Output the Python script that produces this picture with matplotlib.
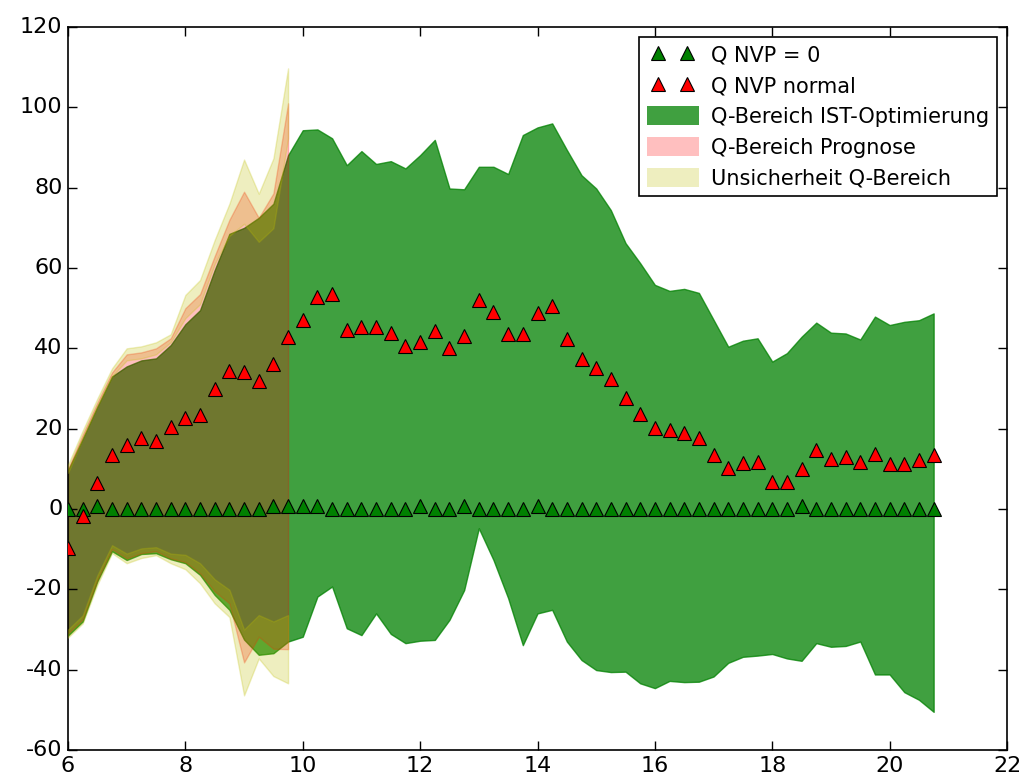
import numpy as np
import matplotlib
matplotlib.use("Agg")
import matplotlib.pyplot as plt
import matplotlib.patches as mpatches
from matplotlib.legend_handler import HandlerLine2D

# ---------------- data ----------------
hours = [6.0, 6.25, 6.5, 6.75, 7.0, 7.25, 7.5, 7.75, 8.0, 8.25, 8.5, 8.75,
         9.0, 9.25, 9.5, 9.75, 10.0, 10.25, 10.5, 10.75, 11.0, 11.25, 11.5, 11.75,
         12.0, 12.25, 12.5, 12.75, 13.0, 13.25, 13.5, 13.75, 14.0, 14.25, 14.5, 14.75,
         15.0, 15.25, 15.5, 15.75, 16.0, 16.25, 16.5, 16.75, 17.0, 17.25, 17.5, 17.75,
         18.0, 18.25, 18.5, 18.75, 19.0, 19.25, 19.5, 19.75, 20.0, 20.25, 20.5, 20.75]

q_nvp_zero = [0, 0, 0.7, 0, 0, 0, 0, 0, 0, 0, 0, 0,
              0, 0, 0.7, 0.7, 0.7, 0.7, 0, 0, 0, 0, 0, 0,
              0.7, 0, 0, 0.7, 0, 0, 0, 0, 0.7, 0, 0, 0,
              0, 0, 0, 0, 0, 0, 0, 0, 0, 0, 0, 0,
              0, 0, 0.7, 0, 0, 0, 0, 0, 0, 0, 0, 0]

q_nvp_normal = [-9.7, -1.7, 6.5, 13.4, 15.9, 17.8, 17.0, 20.3, 22.6, 23.5, 29.9, 34.3,
                34.0, 31.9, 36.1, 42.9, 47.1, 52.8, 53.5, 44.5, 45.3, 45.3, 43.7, 40.5,
                41.5, 44.2, 40.0, 43.0, 52.0, 49.0, 43.5, 43.5, 48.7, 50.5, 42.2, 37.4,
                35.0, 32.4, 27.6, 23.7, 20.1, 19.7, 18.8, 17.8, 13.5, 10.2, 11.4, 11.8,
                6.8, 6.8, 9.9, 14.8, 12.4, 12.9, 11.7, 13.6, 11.3, 11.3, 12.1, 13.5]

ist_hi = [9.6, 17.5, 25.5, 33.0, 35.5, 37.0, 37.5, 40.8, 46.0, 49.5, 59.5, 68.5,
          70.0, 72.5, 76.0, 88.1, 94.3, 94.5, 92.3, 85.6, 89.1, 85.9, 86.6, 84.8,
          88.1, 91.9, 79.8, 79.6, 85.2, 85.2, 83.4, 93.1, 95.0, 96.0, 89.4, 83.1,
          79.8, 74.4, 66.2, 61.2, 55.8, 54.3, 54.8, 53.8, 47.1, 40.4, 41.9, 42.5,
          36.7, 38.8, 42.9, 46.4, 43.9, 43.7, 42.2, 47.9, 45.8, 46.6, 47.0, 48.7]

ist_lo = [-31.5, -28.0, -18.0, -10.5, -12.7, -11.2, -11.0, -12.5, -13.5, -16.4, -21.4, -25.1,
          -32.5, -36.3, -35.9, -33.0, -31.8, -21.8, -19.3, -29.7, -31.4, -26.0, -31.1, -33.4,
          -32.8, -32.6, -27.6, -20.2, -4.8, -12.7, -22.2, -33.9, -26.0, -25.1, -33.0, -37.6,
          -40.1, -40.6, -40.5, -43.4, -44.6, -42.8, -43.1, -43.0, -41.7, -38.3, -36.8, -36.5,
          -36.1, -37.2, -37.8, -33.4, -34.3, -34.1, -33.0, -41.2, -41.2, -45.6, -47.5, -50.5]

prog_hours = hours[:16]
prog_hi = [10.0, 18.5, 26.5, 34.0, 38.5, 39.0, 40.0, 42.5, 50.0, 53.5, 63.0, 72.0,
           79.0, 72.5, 78.6, 101.0]
prog_lo = [-31.0, -27.5, -17.7, -10.0, -12.3, -11.0, -10.5, -12.3, -13.2, -16.0, -20.5, -23.5,
           -38.2, -31.8, -34.8, -34.9]

unc_up_hi = [11.0, 19.5, 27.5, 35.0, 40.0, 40.5, 41.5, 43.5, 53.3, 57.0, 67.0, 76.0,
             87.0, 78.5, 87.3, 109.7]
unc_up_lo = [9.0, 17.5, 25.5, 33.0, 37.0, 37.5, 38.5, 41.5, 47.5, 51.0, 61.0, 68.0,
             71.0, 66.5, 69.9, 92.3]
unc_dn_hi = [-30.0, -26.5, -16.5, -9.0, -11.1, -9.8, -9.5, -11.1, -11.4, -13.5, -17.5, -20.1,
             -30.0, -26.4, -28.0, -26.4]
unc_dn_lo = [-32.0, -28.5, -18.9, -11.0, -13.5, -12.2, -11.5, -13.5, -15.0, -18.5, -23.5, -26.9,
             -46.4, -37.2, -41.6, -43.4]

labels = ["Q NVP = 0", "Q NVP normal", "Q-Bereich IST-Optimierung",
          "Q-Bereich Prognose", "Unsicherheit Q-Bereich"]

# ---------------- plot ----------------
plt.style.use("classic")
plt.rcParams["font.family"] = ["DejaVu Sans"]
plt.rcParams["axes.unicode_minus"] = False

fig = plt.figure(figsize=(10.21, 7.80), dpi=100, facecolor="white")
ax = fig.add_axes([68 / 1021, 1 - 750 / 780, (1007 - 68) / 1021, (750 - 27) / 780])

ax.fill_between(hours, ist_lo, ist_hi, facecolor="green", edgecolor="green",
                alpha=0.75, linewidth=1.0, zorder=1)
ax.fill_between(prog_hours, prog_lo, prog_hi, facecolor="red", edgecolor="red",
                alpha=0.25, linewidth=1.0, zorder=2)
ax.fill_between(prog_hours, unc_up_lo, unc_up_hi, facecolor="y", edgecolor="y",
                alpha=0.25, linewidth=1.0, zorder=3)
ax.fill_between(prog_hours, unc_dn_lo, unc_dn_hi, facecolor="y", edgecolor="y",
                alpha=0.25, linewidth=1.0, zorder=3)

l0, = ax.plot(hours, q_nvp_zero, linestyle="none", marker="^", markersize=9.5,
              markerfacecolor="green", markeredgecolor="black", markeredgewidth=0.8, zorder=5)
l1, = ax.plot(hours, q_nvp_normal, linestyle="none", marker="^", markersize=9.5,
              markerfacecolor="red", markeredgecolor="black", markeredgewidth=0.8, zorder=5)

h_g = mpatches.Patch(facecolor="green", alpha=0.75, edgecolor="none")
h_p = mpatches.Patch(facecolor="red", alpha=0.25, edgecolor="none")
h_y = mpatches.Patch(facecolor="y", alpha=0.25, edgecolor="none")

ax.set_xlim(6, 22)
ax.set_ylim(-60, 120)
ax.set_xticks(np.arange(6, 23, 2))
ax.set_yticks(np.arange(-60, 121, 20))
ax.tick_params(labelsize=16, length=6.5, width=1, direction="in", top=True, right=True)
for s in ax.spines.values():
    s.set_linewidth(1.2)

hm = {l0: HandlerLine2D(marker_pad=0.55), l1: HandlerLine2D(marker_pad=0.55)}
leg = ax.legend([l0, l1, h_g, h_p, h_y], labels, loc="upper right", numpoints=2,
                fontsize=15, handlelength=2.5, handleheight=1.0, labelspacing=0.5,
                borderaxespad=0.5, handletextpad=0.6, borderpad=0.35, fancybox=False,
                framealpha=1, handler_map=hm)
leg.get_frame().set_edgecolor("black")
leg.get_frame().set_linewidth(1.2)

fig.savefig("out.png", dpi=100, facecolor="white")
